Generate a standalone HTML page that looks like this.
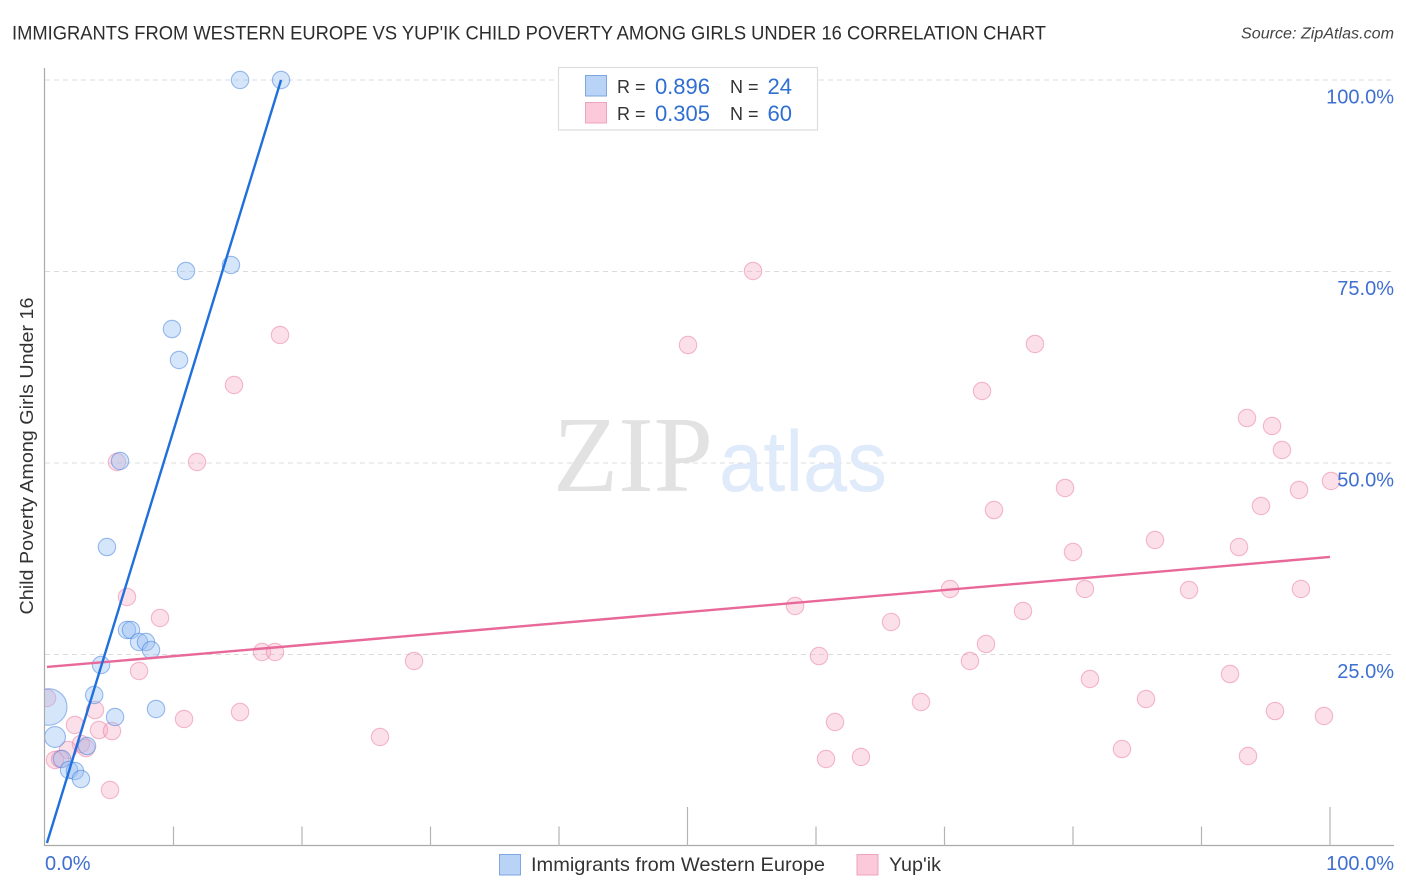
<!DOCTYPE html>
<html lang="en">
<head>
<meta charset="utf-8">
<title>Immigrants from Western Europe vs Yup'ik Child Poverty Correlation Chart</title>
<style>
html,body{margin:0;padding:0;background:#fff;width:1406px;height:892px;overflow:hidden}
svg{display:block;font-family:"Liberation Sans",sans-serif}
</style>
</head>
<body>
<svg id="chart" xmlns="http://www.w3.org/2000/svg" width="1406" height="892" viewBox="0 0 1406 892">
  <defs>
    <clipPath id="plot-clip"><rect x="45" y="60" width="1349" height="786"/></clipPath>
  </defs>
  <rect x="0" y="0" width="1406" height="892" fill="#fff"/>
  <text x="12" y="39.5" font-size="19.5" fill="#2c2c2c" textLength="1034" lengthAdjust="spacingAndGlyphs">IMMIGRANTS FROM WESTERN EUROPE VS YUP'IK CHILD POVERTY AMONG GIRLS UNDER 16 CORRELATION CHART</text>
  <text x="1394" y="38.5" font-size="15.5" font-style="italic" fill="#444" text-anchor="end" textLength="153" lengthAdjust="spacingAndGlyphs">Source: ZipAtlas.com</text>
  <g id="grid"></g>
  <text x="553" y="491" font-family="'Liberation Serif',serif" font-size="108" fill="#e2e2e2" textLength="160" lengthAdjust="spacingAndGlyphs">ZIP</text>
  <text x="719" y="491" font-size="86" fill="#dfeafa" textLength="168" lengthAdjust="spacingAndGlyphs">atlas</text>
  <g id="axes"></g>
  <g id="points" clip-path="url(#plot-clip)"></g>
  <g id="trends"></g>
  <g id="tick-labels" font-size="20" fill="#3f6fd0"></g>
  <text transform="translate(33,456) rotate(-90)" font-size="18.5" fill="#333" text-anchor="middle" textLength="317" lengthAdjust="spacingAndGlyphs">Child Poverty Among Girls Under 16</text>

  <g>
    <rect x="558.5" y="67.5" width="259" height="62.5" fill="#fff" stroke="#ddd" stroke-width="1.2"/>
    <rect x="585.5" y="75.5" width="21" height="20.5" fill="#b9d3f6" stroke="#7ea6e2" stroke-width="1"/>
    <rect x="585.5" y="102.5" width="21" height="20.5" fill="#fcc9da" stroke="#eda3bd" stroke-width="1"/>
    <text x="617" y="93" font-size="18" fill="#333">R =</text>
    <text x="710" y="94" font-size="22" fill="#2f6fd2" text-anchor="end">0.896</text>
    <text x="730" y="93" font-size="18" fill="#333">N =</text>
    <text x="792" y="94" font-size="22" fill="#2f6fd2" text-anchor="end">24</text>
    <text x="617" y="120" font-size="18" fill="#333">R =</text>
    <text x="710" y="121" font-size="22" fill="#2f6fd2" text-anchor="end">0.305</text>
    <text x="730" y="120" font-size="18" fill="#333">N =</text>
    <text x="792" y="121" font-size="22" fill="#2f6fd2" text-anchor="end">60</text>
  </g>

  <g>
    <rect x="499.5" y="854.5" width="21" height="20.5" fill="#b9d3f6" stroke="#7ea6e2" stroke-width="1"/>
    <text x="531" y="871" font-size="19.5" fill="#333" textLength="294" lengthAdjust="spacingAndGlyphs">Immigrants from Western Europe</text>
    <rect x="857" y="854.5" width="21" height="20.5" fill="#fcc9da" stroke="#eda3bd" stroke-width="1"/>
    <text x="889" y="871" font-size="19.5" fill="#333" textLength="52" lengthAdjust="spacingAndGlyphs">Yup'ik</text>
  </g>
</svg>
<script>
var yTickValues = [25, 50, 75, 100];
var yTickLabels = ['25.0%', '50.0%', '75.0%', '100.0%'];
var xTickValues = [10, 20, 30, 40, 50, 60, 70, 80, 90, 100];
var xEdgeLabels = ['0.0%', '100.0%'];

var immigrantsX = [15.18,18.37,10.97,14.47,9.88,10.43,5.84,4.82,6.38,6.69,7.32,7.86,8.25,4.36,3.83,5.45,8.64,0.29,0.78,1.32,3.27,1.87,2.33,2.80];
var immigrantsY = [100,100,75.07,75.85,67.49,63.45,50.26,39.03,28.2,28.2,26.63,26.63,25.59,23.63,19.71,16.84,17.89,18.15,14.23,11.36,13.05,9.92,9.79,8.75];
var immigrantsSize = [1,1,1,1,1,1,1,1,1,1,1,1,1,1,1,1,1,2.1,1.2,1,1,1,1,1];

var yupikX = [55.10,18.29,50.04,77.04,14.71,72.92,93.54,95.49,96.26,11.83,5.60,100.08,79.38,97.59,94.63,73.85,86.38,92.92,80.0,70.43,80.93,89.03,97.74,6.38,58.37,8.95,76.11,65.84,73.23,16.89,17.90,60.23,28.72,71.98,7.32,92.22,81.32,0.16,85.68,68.17,3.89,15.18,95.72,10.82,99.53,61.48,2.33,4.20,5.21,26.07,83.81,2.80,3.19,1.79,93.62,63.50,60.78,0.78,1.17,5.06];
var yupikY = [75.07,66.71,65.40,65.54,60.18,59.40,55.87,54.83,51.70,50.13,50.13,47.65,46.74,46.48,44.39,43.86,39.95,39.03,38.38,33.55,33.55,33.42,33.55,32.51,31.33,29.77,30.68,29.24,26.37,25.33,25.33,24.80,24.15,24.15,22.85,22.45,21.80,19.32,19.19,18.80,17.75,17.49,17.62,16.58,16.97,16.19,15.80,15.14,15.01,14.23,12.66,13.32,12.79,12.53,11.75,11.62,11.36,11.23,11.36,7.31];

var immigrantsTrendX = [0.15, 18.37];
var immigrantsTrendY = [0.39, 100];
var yupikTrendX = [0.15, 100];
var yupikTrendY = [23.37, 37.73];

var NS = 'http://www.w3.org/2000/svg';
function xScale(v) { return 45 + v * 12.85; }
function yScale(v) { return 846 - v * 7.66; }
function make(parent, tag, attrs) {
  var el = document.createElementNS(NS, tag);
  for (var k in attrs) { el.setAttribute(k, attrs[k]); }
  parent.appendChild(el);
  return el;
}

var gridG = document.getElementById('grid');
var axesG = document.getElementById('axes');
var labelsG = document.getElementById('tick-labels');
var pointsG = document.getElementById('points');
var trendsG = document.getElementById('trends');

yTickValues.forEach(function (v, i) {
  var line = make(gridG, 'line', { x1: 45, x2: 1394, y1: yScale(v), y2: yScale(v), stroke: '#dcdcdc', 'stroke-width': 1, 'stroke-dasharray': '5 4' });
  
  
  var label = make(labelsG, 'text', { x: 1394, y: yScale(v) + 23.5, 'text-anchor': 'end' });
  label.textContent = yTickLabels[i];
  
  
});

var yAxis = make(axesG, 'line', { x1: 44.5, x2: 44.5, y1: 68, y2: 846, stroke: '#aaa', 'stroke-width': 1.2 });


var xAxis = make(axesG, 'line', { x1: 44, x2: 1394, y1: 845.5, y2: 845.5, stroke: '#aaa', 'stroke-width': 1.2 });



xTickValues.forEach(function (v) {
  var top = (v % 50 === 0) ? 807 : 826.5;
  var tick = make(axesG, 'line', { x1: xScale(v), x2: xScale(v), y1: top, y2: 846, stroke: '#b4b4b4', 'stroke-width': 1.2 });
  
  
});

var xLabelLeft = make(labelsG, 'text', { x: 45, y: 870 });
xLabelLeft.textContent = xEdgeLabels[0];


var xLabelRight = make(labelsG, 'text', { x: 1394, y: 870, 'text-anchor': 'end' });
xLabelRight.textContent = xEdgeLabels[1];



yupikX.forEach(function (v, i) {
  var dot = make(pointsG, 'circle', { cx: xScale(v), cy: yScale(yupikY[i]), r: 8.7, fill: 'rgba(248,170,195,0.36)', stroke: 'rgba(234,120,160,0.5)', 'stroke-width': 1.1 });
  
  
});

immigrantsX.forEach(function (v, i) {
  var dot = make(pointsG, 'circle', { cx: xScale(v), cy: yScale(immigrantsY[i]), r: 8.7 * immigrantsSize[i], fill: 'rgba(150,190,243,0.4)', stroke: 'rgba(60,125,220,0.5)', 'stroke-width': 1.1 });
  
  
});

var yupikTrend = make(trendsG, 'line', { x1: xScale(yupikTrendX[0]), y1: yScale(yupikTrendY[0]), x2: xScale(yupikTrendX[1]), y2: yScale(yupikTrendY[1]), stroke: '#e8689a', 'stroke-width': 2.4 });


var immigrantsTrend = make(trendsG, 'line', { x1: xScale(immigrantsTrendX[0]), y1: yScale(immigrantsTrendY[0]), x2: xScale(immigrantsTrendX[1]), y2: yScale(immigrantsTrendY[1]), stroke: '#1f6fdc', 'stroke-width': 2.4 });


</script>
</body>
</html>
